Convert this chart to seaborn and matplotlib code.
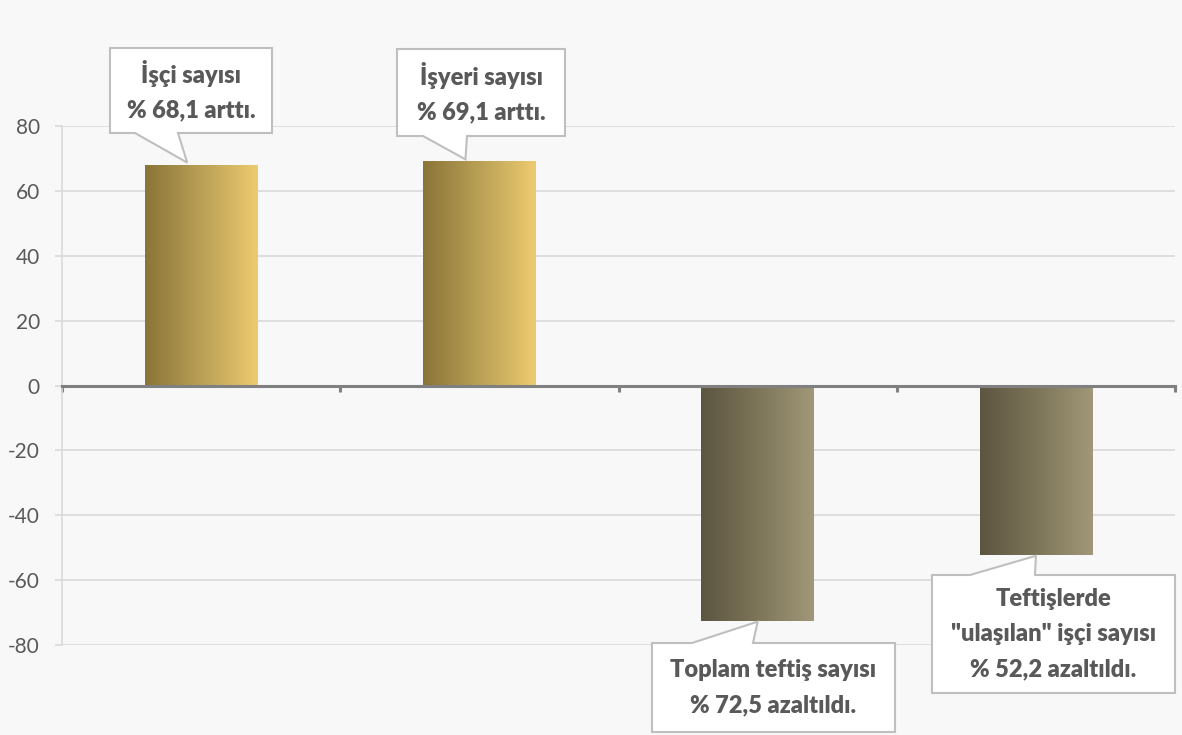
import numpy as np
import pandas as pd
import seaborn as sns
import matplotlib.pyplot as plt
from matplotlib.colors import LinearSegmentedColormap
from matplotlib.patches import Polygon
from matplotlib.transforms import IdentityTransform

# data
categories = ['İşçi sayısı', 'İşyeri sayısı', 'Toplam teftiş sayısı', 'Ulaşılan işçi sayısı']
values = [68.1, 69.1, -72.5, -52.2]
yticks = [-80, -60, -40, -20, 0, 20, 40, 60, 80]
callout_texts = ['İşçi sayısı\n% 68,1 arttı.',
                 'İşyeri sayısı\n% 69,1 arttı.',
                 'Toplam teftiş sayısı\n% 72,5 azaltıldı.',
                 'Teftişlerde\n"ulaşılan" işçi sayısı\n% 52,2 azaltıldı.']

df = pd.DataFrame({'cat': categories, 'val': values})

bg = '#f8f8f8'
sns.set_style('white')
plt.rcParams['font.family'] = ['Lato', 'DejaVu Sans']
plt.rcParams['axes.unicode_minus'] = False

W, H = 1182, 735
fig = plt.figure(figsize=(W / 100, H / 100), dpi=100, facecolor=bg)
ax = fig.add_axes([62 / W, 1 - 645 / H, (1175 - 62) / W, (645 - 126) / H])
ax.set_facecolor(bg)

sns.barplot(data=df, x='cat', y='val', ax=ax, width=0.405, color='white', zorder=3)

# gradient fills
pos_cmap = LinearSegmentedColormap.from_list('pos', ['#8a7438', '#b9a055', '#edcb70'])
neg_cmap = LinearSegmentedColormap.from_list('neg', ['#5c5541', '#7d7558', '#a19879'])
grad = np.linspace(0, 1, 256).reshape(1, -1)
for p in ax.patches:
    x0, w = p.get_x(), p.get_width()
    y0, h = p.get_y(), p.get_height()
    ylo, yhi = min(y0, y0 + h), max(y0, y0 + h)
    cmap = pos_cmap if (y0 + h) > 0 else neg_cmap
    p.set_facecolor('none')
    p.set_edgecolor('none')
    im = ax.imshow(grad, cmap=cmap, aspect='auto', extent=[x0, x0 + w, ylo, yhi],
                   origin='lower', zorder=3)
    im.set_clip_path(p)

ax.set_xlim(-0.5, 3.5)
ax.set_ylim(-80, 80)

# axes styling
ax.set_yticks(yticks)
ax.set_xticks([-0.5, 0.5, 1.5, 2.5, 3.5])
ax.set_xticklabels([])
ax.set_xlabel('')
ax.set_ylabel('')
ax.yaxis.grid(True, color='#d9d9d9', lw=1.2, zorder=0)
ax.xaxis.grid(False)
for s in ['top', 'right']:
    ax.spines[s].set_visible(False)
ax.spines['left'].set_color('#d9d9d9')
ax.spines['left'].set_linewidth(1.2)
ax.spines['bottom'].set_position(('data', 0))
ax.spines['bottom'].set_color('#808080')
ax.spines['bottom'].set_linewidth(2.2)
ax.spines['bottom'].set_zorder(4)
ax.tick_params(axis='y', left=True, length=5, color='#d9d9d9', width=1.2, labelsize=15,
               labelcolor='#595959', pad=11)
ax.tick_params(axis='x', bottom=True, direction='out', length=4, color='#808080', width=2.2)

# callouts (box layout in figure pixels, tip at the bar end)
boxes = [
    (110, 272, 48, 133, 135, 178),
    (397, 565, 49, 136, 423, 467),
    (652, 895, 643, 732, 692, 753),
    (932, 1175, 575, 693, 970, 1035),
]
fig.canvas.draw()
for i, (v, txt, b) in enumerate(zip(values, callout_texts, boxes)):
    L, R, T, B, b1, b2 = b
    tx, ty = ax.transData.transform((i - 0.05 if v > 0 else i, v))
    yT, yB = H - T, H - B
    if v > 0:
        ty += 2
        verts = [(L, yT), (R, yT), (R, yB), (b2, yB), (tx, ty), (b1, yB), (L, yB)]
    else:
        ty -= 1
        verts = [(L, yT), (b1, yT), (tx, ty), (b2, yT), (R, yT), (R, yB), (L, yB)]
    poly = Polygon(verts, closed=True, facecolor='white', edgecolor='#bfbfbf',
                   lw=1.5, transform=IdentityTransform(), clip_on=False, zorder=10)
    fig.patches.append(poly)
    poly.set_figure(fig)
    fig.text((L + R) / 2 / W, 1 - (T + B) / 2 / H, txt, ha='center', va='center',
             fontsize=17, fontweight='heavy', color='#595959', linespacing=1.72,
             zorder=11)

fig.savefig('out.png', dpi=100, facecolor=bg)
